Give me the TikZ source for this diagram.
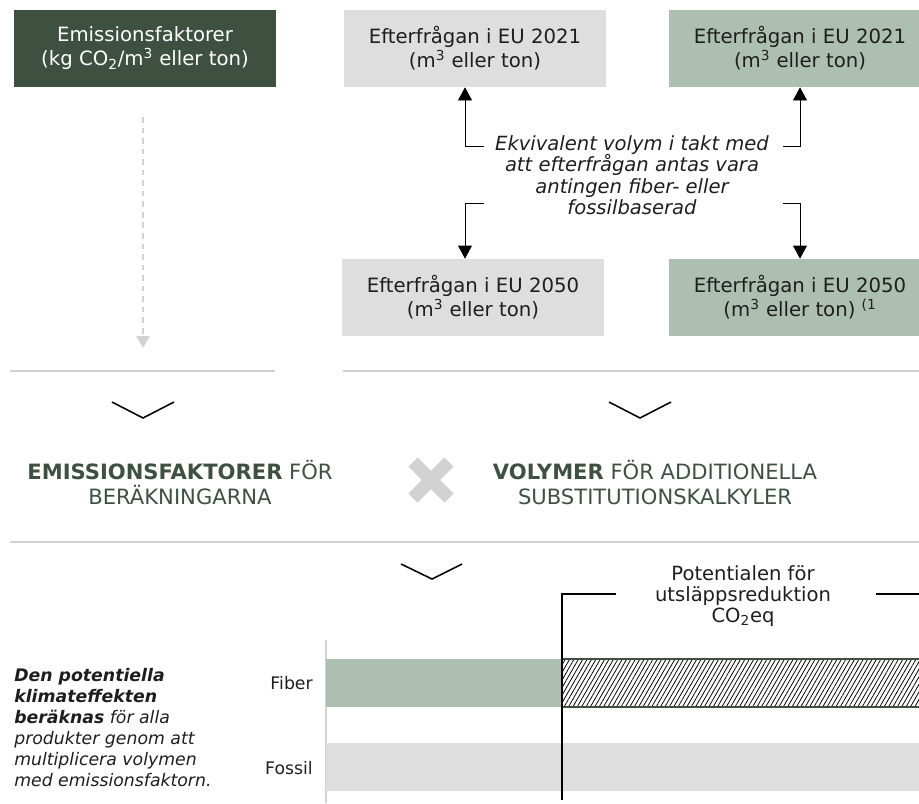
\documentclass[tikz,border=0pt]{standalone}
\usepackage{fontspec}
\setmainfont{DejaVu Sans}
\usepackage{xcolor}
\usepackage{tikz}
\usetikzlibrary{arrows.meta, positioning, patterns.meta}

\definecolor{efgreen}{RGB}{62,81,65}
\definecolor{sage}{RGB}{173,191,176}
\definecolor{lightgrey}{RGB}{222,222,222}
\definecolor{rulegrey}{RGB}{210,210,210}
\definecolor{inkgrey}{RGB}{30,30,30}

\tikzset{
  box/.style={minimum width=6.55cm, minimum height=1.925cm, inner sep=0pt, align=center,
    text=inkgrey, font=\fontsize{14}{17}\selectfont},
  darkbox/.style={box, fill=efgreen, text=white},
  greybox/.style={box, fill=lightgrey},
  sagebox/.style={box, fill=sage},
  arr/.style={-{Triangle[width=0.35cm, length=0.33cm]}, line width=0.7pt},
  rule/.style={rulegrey, line width=1pt},
  chev/.style={line width=1.1pt},
  heading/.style={align=center, text=efgreen, font=\fontsize{15}{17.8}\selectfont},
  small/.style={text=inkgrey, font=\fontsize{12.3}{14.9}\selectfont}
}

\begin{document}
\begin{tikzpicture}[x=0.025cm, y=-0.025cm]
  \clip (0,0) rectangle (919,803);
  % Top boxes
  \node[darkbox] (ef) at (145,48.5) {Emissionsfaktorer\\(kg CO\textsubscript{2}/m\textsuperscript{3} eller ton)};
  \node[greybox] (eu21g) at (475,48.5) {Efterfrågan i EU 2021\\(m\textsuperscript{3} eller ton)};
  \node[sagebox] (eu21s) at (800,48.5) {Efterfrågan i EU 2021\\(m\textsuperscript{3} eller ton)};
  \node[greybox] (eu50g) at (473,297.5) {Efterfrågan i EU 2050\\(m\textsuperscript{3} eller ton)};
  \node[sagebox] (eu50s) at (800,297.5) {Efterfrågan i EU 2050\\(m\textsuperscript{3} eller ton) \textsuperscript{(1}};
  % Note between the boxes
  \node[align=center, text=inkgrey, font=\fontsize{13.9}{15.3}\selectfont\itshape] (ekv) at (632,175)
    {Ekvivalent volym i takt med\\att efterfrågan antas vara\\antingen fiber- eller\\fossilbaserad};
  \coordinate (ekvUL) at (484,146);
  \coordinate (ekvUR) at (783,146);
  \coordinate (ekvDL) at (484,203);
  \coordinate (ekvDR) at (783,203);
  \draw[arr] (ekvUL) -| ([xshift=-0.25cm]eu21g.south);
  \draw[arr] (ekvUR) -| (eu21s.south);
  \draw[arr] (ekvDL) -| ([xshift=-0.2cm]eu50g.north);
  \draw[arr] (ekvDR) -| (eu50s.north);
  % Dashed arrow under the emission factors
  \coordinate (dashS) at (143,117);
  \coordinate (dashE) at (143,348);
  \draw[rulegrey, line width=1pt, dash pattern=on 4pt off 3.5pt, -{Triangle[width=0.33cm, length=0.3cm]}] (dashS) -- (dashE);
  % Separators and chevrons
  \draw[rule] (10,371) -- (275,371);
  \draw[rule] (343,371) -- (919,371);
  \draw[chev] (112,402) -- (143,418) -- (174,402);
  \draw[chev] (609,402) -- (640,418) -- (671,402);
  % Headings
  \node[heading] (hEF) at (180,482.5) {\textbf{EMISSIONSFAKTORER} FÖR\\BERÄKNINGARNA};
  \node[heading] (hVol) at (655,482.5) {\textbf{VOLYMER} FÖR ADDITIONELLA\\SUBSTITUTIONSKALKYLER};
  \draw[rulegrey, line width=9.2pt] (413,462) -- (449,498) (449,462) -- (413,498);
  \draw[rule] (10,542) -- (919,542);
  \draw[chev] (401,564) -- (432,579) -- (462,564);
  % Bar chart
  \draw[rulegrey, line width=1.2pt] (326,640) -- (326,803);
  \fill[sage] (326,659) rectangle (562,707);
  \fill[lightgrey] (326,743) rectangle (919,791);
  \draw[efgreen, line width=1.1pt, pattern={Lines[angle=60, distance=2.7pt, line width=0.55pt]}] (562,659) rectangle (935,707);
  \node[small, anchor=east, inner sep=0pt] (fiber) at (313,683) {Fiber};
  \node[small, anchor=east, inner sep=0pt] (fossil) at (313,768) {Fossil};
  \node[small, anchor=west, align=left, inner sep=0pt, font=\fontsize{12.3}{14.9}\selectfont\itshape] (calc) at (14,727.5)
    {\textbf{Den potentiella}\\\textbf{klimateffekten}\\\textbf{beräknas} för alla\\produkter genom att\\multiplicera volymen\\med emissionsfaktorn.};
  \node[small, align=center, font=\fontsize{13.9}{14.9}\selectfont] (pot) at (743,596) {Potentialen för\\utsläppsreduktion\\CO\textsubscript{2}eq};
  \coordinate (potL) at (616,594);
  \coordinate (potR) at (930,594);
  \coordinate (potB) at (562,800);
  \draw[line width=1pt] (potL) -| (potB);
  \draw[line width=1pt] ([xshift=1cm]pot.east |- potR) -- (potR);
\end{tikzpicture}
\end{document}
